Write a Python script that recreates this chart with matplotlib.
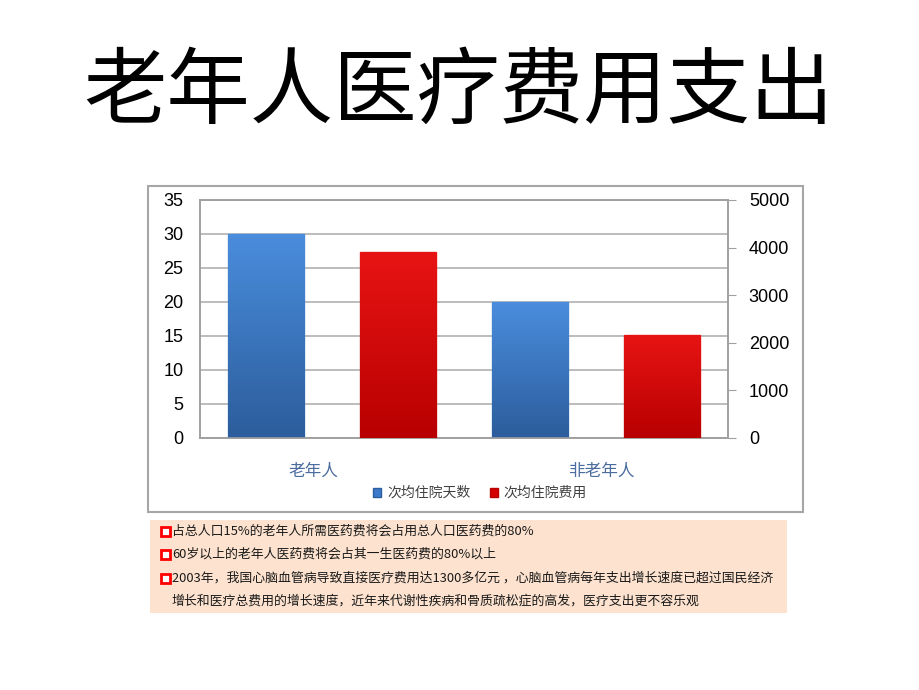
import matplotlib
matplotlib.use("Agg")
from matplotlib import pyplot as plt
from matplotlib.patches import Rectangle
import numpy as np

plt.rcParams['font.family'] = ['Noto Sans CJK SC', 'DejaVu Sans']

title = "老年人医疗费用支出"
categories = ["老年人", "非老年人"]
days = [30, 20]            # 次均住院天数 (left axis)
cost = [3900, 2170]        # 次均住院费用 (right axis)
series_names = ["次均住院天数", "次均住院费用"]
left_ticks = [0, 5, 10, 15, 20, 25, 30, 35]
right_ticks = [0, 1000, 2000, 3000, 4000, 5000]
notes = [
    ["占总人口15%的老年人所需医药费将会占用总人口医药费的80%"],
    ["60岁以上的老年人医药费将会占其一生医药费的80%以上"],
    ["2003年，我国心脑血管病导致直接医疗费用达1300多亿元 ，心脑血管病每年支出增长速度已超过国民经济",
     "增长和医疗总费用的增长速度，近年来代谢性疾病和骨质疏松症的高发，医疗支出更不容乐观"],
]

W, H = 920, 690
fig = plt.figure(figsize=(W / 100, H / 100), dpi=100)
fig.patch.set_facecolor("white")


def fx(px):
    return px / W


def fy(py):
    return 1 - py / H


# title
fig.text(fx(458), fy(92), title, ha="center", va="center", fontsize=60,
         fontweight="light", color="black")

# chart frame
fig.add_artist(Rectangle((fx(148), fy(512)), fx(803) - fx(148), fy(186) - fy(512),
                         transform=fig.transFigure, facecolor="white",
                         edgecolor="#a6a6a6", lw=1.5, zorder=0))

ax = fig.add_axes([fx(200), fy(438), fx(728) - fx(200), fy(200) - fy(438)])
ax2 = ax.twinx()

x = np.arange(len(categories))
width = 0.288


def gradient_bars(axis, bars, top, bottom):
    c1 = np.array(matplotlib.colors.to_rgb(top))
    c2 = np.array(matplotlib.colors.to_rgb(bottom))
    t = np.linspace(0, 1, 64)[:, None]
    img = (c1 * (1 - t) + c2 * t)[:, None, :]
    for b in bars:
        x0, y0 = b.get_x(), b.get_y()
        w, h = b.get_width(), b.get_height()
        im = axis.imshow(img, extent=[x0, x0 + w, y0, y0 + h], aspect="auto",
                         origin="upper", zorder=b.get_zorder())
        im.set_clip_path(b)
        b.set_facecolor("none")


b1 = ax.bar(x - 0.25, days, width, color="#3b7acb", edgecolor="#5d95d6", lw=1, zorder=3)
gradient_bars(ax, b1, "#4a8ddd", "#2c5d9c")
b2 = ax2.bar(x + 0.25, cost, width, color="#d40000", edgecolor="#e03030", lw=1, zorder=3)
gradient_bars(ax2, b2, "#e81414", "#b80000")

ax.set_xlim(-0.5, 1.5)
ax.set_ylim(0, 35)
ax2.set_ylim(0, 5000)
ax.set_yticks(left_ticks)
ax2.set_yticks(right_ticks)
ax.yaxis.grid(True, color="#b0b0b0", lw=1.2)
ax.set_axisbelow(True)

for a in (ax, ax2):
    for s in a.spines.values():
        s.set_color("#a0a0a0")
        s.set_linewidth(1.2)

ax.tick_params(axis="y", length=0, pad=12, labelsize=13, labelcolor="#000000")
ax2.tick_params(axis="y", length=6, color="#a0a0a0", pad=9, labelsize=13, labelcolor="#000000")
for lab in ax.get_yticklabels() + ax2.get_yticklabels():
    lab.set_family(["Liberation Sans", "DejaVu Sans"])

ax.set_xticks([-0.07, 1.02])
ax.set_xticklabels(categories, fontsize=12, color="#4a6c9f")
ax.tick_params(axis="x", length=0, pad=18)

# legend
handles = [Rectangle((0, 0), 1, 1, facecolor="#3b7acb", edgecolor="#2c5d9c"),
           Rectangle((0, 0), 1, 1, facecolor="#d40000", edgecolor="#b80000")]
fig.legend(handles, series_names, loc="center", bbox_to_anchor=(fx(480), fy(493)),
           ncol=2, frameon=False, fontsize=10, handlelength=0.6, handleheight=0.6,
           handletextpad=0.4, columnspacing=1.4, labelcolor="#404040")

# notes box
fig.add_artist(Rectangle((fx(150), fy(613)), fx(787) - fx(150), fy(520) - fy(613),
                         transform=fig.transFigure, facecolor="#fde3cf",
                         edgecolor="none", zorder=0))
line_y = 531
for note in notes:
    fig.add_artist(Rectangle((fx(161), fy(line_y + 5)), fx(9), 9 / H,
                             transform=fig.transFigure, facecolor="white",
                             edgecolor="#ff0000", lw=2))
    for line in note:
        fig.text(fx(172), fy(line_y), line, ha="left", va="center",
                 fontsize=9.3, color="#1a1a1a")
        line_y += 23.3

fig.savefig("out.png", dpi=100)
